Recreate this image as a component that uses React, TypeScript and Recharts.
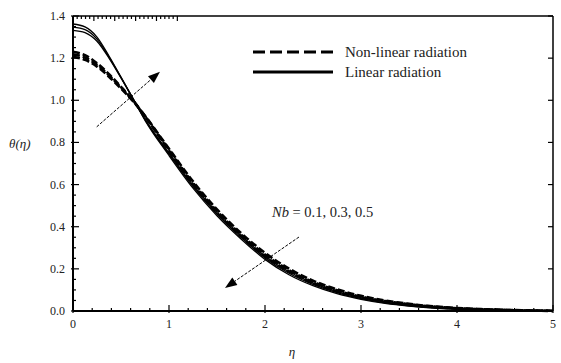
import { LineChart, Line, XAxis, YAxis, ReferenceLine } from 'recharts'

const FONT = '"Liberation Serif", "Times New Roman", serif'

const eta = [0, 0.125, 0.25, 0.375, 0.5, 0.625, 0.75, 1, 1.25, 1.5, 1.75, 2, 2.25, 2.5, 2.75, 3, 3.25, 3.5, 3.75, 4, 4.25, 4.5, 4.75, 5]

// linear radiation, Nb = 0.1, 0.3, 0.5
const linNb01 = [1.332, 1.321, 1.28, 1.2, 1.106, 1.008, 0.911, 0.75, 0.597, 0.468, 0.358, 0.259, 0.186, 0.132, 0.092, 0.063, 0.042, 0.027, 0.017, 0.011, 0.006, 0.003, 0.001, 0]
const linNb03 = [1.347, 1.335, 1.29, 1.205, 1.108, 1.008, 0.908, 0.744, 0.59, 0.46, 0.35, 0.252, 0.179, 0.126, 0.087, 0.059, 0.039, 0.025, 0.016, 0.01, 0.006, 0.003, 0.001, 0]
const linNb05 = [1.362, 1.348, 1.3, 1.21, 1.11, 1.008, 0.905, 0.738, 0.583, 0.452, 0.342, 0.245, 0.172, 0.12, 0.082, 0.055, 0.036, 0.023, 0.014, 0.008, 0.005, 0.003, 0.001, 0]

// non-linear radiation, Nb = 0.1, 0.3, 0.5
const nonNb01 = [1.206, 1.192, 1.16, 1.112, 1.056, 0.996, 0.926, 0.77, 0.615, 0.482, 0.37, 0.276, 0.201, 0.144, 0.103, 0.072, 0.05, 0.034, 0.022, 0.014, 0.009, 0.005, 0.003, 0.001]
const nonNb03 = [1.218, 1.203, 1.168, 1.118, 1.06, 0.998, 0.925, 0.765, 0.608, 0.474, 0.362, 0.268, 0.194, 0.138, 0.098, 0.068, 0.047, 0.032, 0.021, 0.013, 0.008, 0.005, 0.002, 0.001]
const nonNb05 = [1.23, 1.214, 1.176, 1.124, 1.064, 1.0, 0.924, 0.76, 0.601, 0.466, 0.354, 0.26, 0.187, 0.132, 0.093, 0.064, 0.044, 0.03, 0.019, 0.012, 0.007, 0.004, 0.002, 0]

const xMajor = [0, 1, 2, 3, 4, 5]
const xTicks = [0, 0.2, 0.4, 0.6, 0.8, 1, 1.2, 1.4, 1.6, 1.8, 2, 2.2, 2.4, 2.6, 2.8, 3, 3.2, 3.4, 3.6, 3.8, 4, 4.2, 4.4, 4.6, 4.8, 5]
const yMajor = [0, 0.2, 0.4, 0.6, 0.8, 1, 1.2, 1.4]
const yTicks = [0, 0.05, 0.1, 0.15, 0.2, 0.25, 0.3, 0.35, 0.4, 0.45, 0.5, 0.55, 0.6, 0.65, 0.7, 0.75, 0.8, 0.85, 0.9, 0.95, 1, 1.05, 1.1, 1.15, 1.2, 1.25, 1.3, 1.35, 1.4]

const legendItems = [
  { label: 'Non-linear radiation', dash: '12 5' },
  { label: 'Linear radiation', dash: undefined },
]

const arrows = [
  { from: { x: 0.247, y: 0.874 }, to: { x: 0.906, y: 1.136 } },
  { from: { x: 2.354, y: 0.351 }, to: { x: 1.583, y: 0.109 } },
]

const data = eta.map((e, i) => ({
  eta: e,
  lin1: linNb01[i], lin3: linNb03[i], lin5: linNb05[i],
  non1: nonNb01[i], non3: nonNb03[i], non5: nonNb05[i],
}))

const isMajor = (list: number[], v: number) => list.some((m) => Math.abs(m - v) < 1e-6)

const LeftTick = ({ x, y, payload }: any) => {
  const major = isMajor(yMajor, payload.value)
  return (
    <g>
      <line x1={major ? x - 2 : x} y1={y} x2={x + (major ? 6 : 3)} y2={y} stroke="#000" strokeWidth={1.2} />
      {major && (
        <text x={x - 8} y={y} textAnchor="end" dominantBaseline="central" fontFamily={FONT} fontSize={12} fill="#222">
          {payload.value.toFixed(1)}
        </text>
      )}
    </g>
  )
}

const RightTick = ({ x, y, payload }: any) => {
  const major = isMajor(yMajor, payload.value)
  if (!major) return <g />
  return <line x1={x} y1={y} x2={x - 5} y2={y} stroke="#000" strokeWidth={1.2} />
}

const BottomTick = ({ x, y, payload }: any) => {
  const major = isMajor(xMajor, payload.value)
  return (
    <g>
      <line x1={x} y1={major ? y + 2 : y} x2={x} y2={y - (major ? 6 : 3)} stroke="#000" strokeWidth={1.2} />
      {major && (
        <text x={x} y={y + 13} textAnchor="middle" dominantBaseline="central" fontFamily={FONT} fontSize={12} fill="#222">
          {payload.value}
        </text>
      )}
    </g>
  )
}

const TopTick = ({ x, y, payload }: any) => {
  const major = isMajor(xMajor, payload.value)
  return <line x1={x} y1={y} x2={x} y2={y + (major ? 5 : 3)} stroke="#000" strokeWidth={1.2} />
}

const arrowShape = (p: any) => {
  const { x1, y1, x2, y2 } = p
  const ang = Math.atan2(y2 - y1, x2 - x1)
  const L = 12
  const W = 4.5
  const bx = x2 - L * Math.cos(ang)
  const by = y2 - L * Math.sin(ang)
  const px = -Math.sin(ang) * W
  const py = Math.cos(ang) * W
  return (
    <g>
      <line x1={x1} y1={y1} x2={bx} y2={by} stroke="#000" strokeWidth={1} strokeDasharray="3 1.5" />
      <polygon points={`${x2},${y2} ${bx + px},${by + py} ${bx - px},${by - py}`} fill="#000" />
    </g>
  )
}

export default function App() {
  return (
    <div style={{ position: 'absolute', left: 0, top: 0, width: 561, height: 363, background: '#fff' }}>
      <LineChart width={561} height={363} data={data} margin={{ top: 15, right: 7, left: 23, bottom: 2 }}>
        <XAxis
          dataKey="eta"
          type="number"
          domain={[0, 5]}
          ticks={xTicks}
          interval={0}
          height={50}
          tickSize={0}
          tickMargin={0}
          tickLine={false}
          tick={BottomTick}
          axisLine={{ stroke: '#000', strokeWidth: 2 }}
          label={{ value: 'η', position: 'insideBottom', offset: 5, dx: -21, fontFamily: FONT, fontStyle: 'italic', fontSize: 13, fill: '#222' }}
        />
        <XAxis
          xAxisId="top"
          orientation="top"
          type="number"
          domain={[0, 5]}
          allowDataOverflow
          ticks={xTicks}
          interval={0}
          height={1}
          tickSize={0}
          tickMargin={0}
          tickLine={false}
          tick={TopTick}
          axisLine={{ stroke: '#000', strokeWidth: 1.5 }}
        />
        <YAxis
          type="number"
          domain={[0, 1.4]}
          ticks={yTicks}
          interval={0}
          width={50}
          tickSize={0}
          tickMargin={0}
          tickLine={false}
          tick={LeftTick}
          axisLine={{ stroke: '#000', strokeWidth: 2 }}
          label={{ value: 'θ(η)', position: 'insideLeft', offset: -14, dy: -20, fontFamily: FONT, fontStyle: 'italic', fontSize: 13, fill: '#222' }}
        />
        <YAxis
          yAxisId="right"
          orientation="right"
          type="number"
          domain={[0, 1.4]}
          allowDataOverflow
          ticks={yTicks}
          interval={0}
          width={1}
          tickSize={0}
          tickMargin={0}
          tickLine={false}
          tick={RightTick}
          axisLine={{ stroke: '#000', strokeWidth: 1.5 }}
        />
        {['non1', 'non3', 'non5'].map((k) => (
          <Line key={k} dataKey={k} type="monotone" stroke="#000" strokeWidth={2.6} strokeDasharray="7 3" dot={false} isAnimationActive={false} />
        ))}
        {['lin1', 'lin3', 'lin5'].map((k) => (
          <Line key={k} dataKey={k} type="monotone" stroke="#000" strokeWidth={1.3} dot={false} isAnimationActive={false} />
        ))}
        {arrows.map((a, i) => (
          <ReferenceLine key={i} segment={[a.from, a.to]} shape={arrowShape} ifOverflow="visible" />
        ))}
      </LineChart>
      <svg width={561} height={363} style={{ position: 'absolute', left: 0, top: 0, pointerEvents: 'none' }}>
        {legendItems.map((it, i) => (
          <g key={it.label}>
            <line x1={253} y1={52 + i * 20} x2={333} y2={52 + i * 20} stroke="#000" strokeWidth={3} strokeDasharray={it.dash} />
            <text x={345} y={52 + i * 20} dominantBaseline="central" fontFamily={FONT} fontSize={15} fill="#222">
              {it.label}
            </text>
          </g>
        ))}
        <text x={272} y={212} dominantBaseline="central" fontFamily={FONT} fontSize={14.5} fill="#222">
          <tspan fontStyle="italic">Nb</tspan> = 0.1, 0.3, 0.5
        </text>
      </svg>
    </div>
  )
}
